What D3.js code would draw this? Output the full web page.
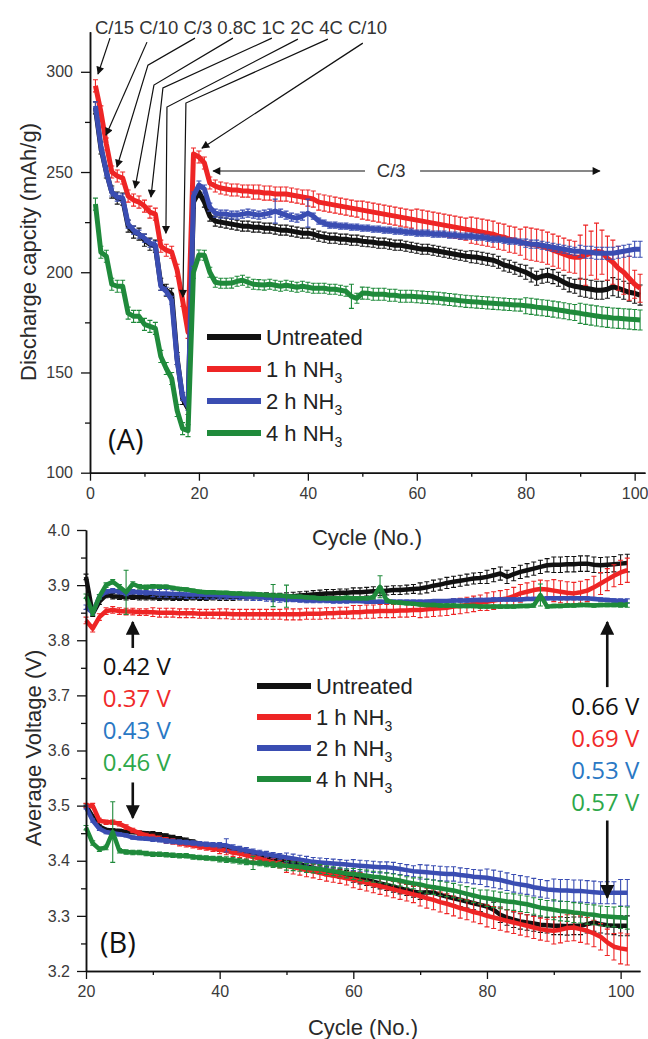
<!DOCTYPE html>
<html>
<head>
<meta charset="utf-8">
<script src="https://cdn.jsdelivr.net/npm/d3@7"></script>
<style>
	body { margin: 0; background: #fff; }
	svg { display: block; }
	svg text { font-family: "Liberation Sans", Arial, sans-serif; }
	svg text.cal { font-family: "Open Sans", sans-serif; }
</style>
</head>
<body>
<svg id="vis" width="648" height="1039"></svg>
<script>

// ---- data ----------------------------------------------------------------
var legendLabels = ["Untreated", "1 h NH3", "2 h NH3", "4 h NH3"];
var seriesColors = ["#111111", "#ee2525", "#3a4db2", "#1f8a3b"];

// panel A : discharge capacity, cycles 1..101
var capCycles = d3.range(1, 102);
var capUntreated = [
	282, 262, 250, 240, 237, 236.5, 223, 220, 219, 216,
	214, 213, 194, 191, 189, 157, 137, 132, 235, 240,
	235, 228, 225.5, 225, 224.5, 224, 223.5, 223, 223, 222.5,
	222.5, 222, 222, 221.5, 221, 221, 220.5, 220, 219.5, 219.5,
	219, 218, 217.5, 217, 217, 216.5, 216.5, 216, 216, 215.5,
	215.2, 215, 214.5, 214.5, 214, 213.5, 213.5, 213, 212.5, 212,
	211.5, 211.5, 211, 210.5, 210, 209.5, 209, 208.5, 208, 207.7,
	207.5, 207, 206.5, 206, 205, 203.6, 203, 202, 201, 200,
	198.6, 197, 198, 198.5, 197.8, 196.5, 195, 193.7, 193, 192.5,
	192, 191.5, 191, 191, 191.5, 192.8, 192, 191, 190, 189.5, 188.6];
var cap1h = [
	293, 280, 264, 250, 248, 247, 238, 236, 235, 233,
	230, 229, 213, 211, 210, 201, 186, 170, 259, 257.5,
	254.5, 244.5, 243, 242, 241.5, 241, 241, 240.5, 240.5, 240,
	240, 239.5, 239.5, 239, 239, 239, 238.5, 238, 237.5, 237,
	236.5, 235, 234.5, 234, 233.5, 233, 232.5, 232, 231.5, 231,
	230.5, 230, 229.5, 229, 228.5, 228, 227.5, 227, 226.5, 226,
	225.5, 225, 224.5, 224, 223.5, 223, 222.5, 222, 221.5, 221,
	220.5, 220, 219.5, 219, 218, 217.5, 216.5, 216, 215, 214.5,
	214, 213.5, 213, 212, 211, 210, 209, 208, 207.5, 207.5,
	208.5, 209.5, 210.5, 210, 207, 205, 202, 200, 197, 194, 192];
var cap2h = [
	283, 263, 250, 240, 237.5, 237, 224, 221, 219, 217,
	214.5, 213.5, 193, 190.5, 186, 156, 138, 133, 238, 243.5,
	241.5, 232.5, 229.5, 229, 229, 228.5, 228.5, 229, 229.5, 229,
	228.5, 229, 229.5, 230.5, 229.5, 228.5, 227.5, 227, 228, 229.5,
	228, 225.5, 224.5, 223.5, 223.5, 223, 223, 222.5, 222.5, 222,
	222, 221.5, 221.5, 221, 221, 220.5, 220.5, 220, 220, 219.5,
	219.5, 219.5, 219, 219, 219, 218.5, 218.5, 218, 218, 218,
	217.5, 217.5, 217, 216.5, 216.5, 216, 215.5, 215.5, 215, 214.5,
	214, 214, 213.5, 213, 212.5, 212, 211.5, 211, 210.5, 210.5,
	210, 210, 209.5, 209.5, 209.5, 209.5, 210, 210.5, 211, 211.5, 211.5];
var cap4h = [
	234, 210, 208, 194, 193, 193, 179.6, 178, 178, 174,
	173, 172, 158, 152, 147, 131, 122, 121, 200, 208.6,
	208.5, 200, 195, 194.5, 194.5, 194.6, 195.5, 196, 195, 194,
	193.8, 193.6, 194, 193.5, 193, 193.5, 193, 192.5, 193, 192.5,
	192, 192, 192, 191.5, 191.5, 191, 190.5, 188, 187, 189.6,
	189.5, 189, 189, 189, 188.5, 188.5, 188, 188, 188, 187.8,
	187.6, 187.4, 187.2, 187, 186.7, 186.4, 186.1, 185.8, 185.5, 185.3,
	185.1, 184.9, 184.7, 184.5, 184.3, 184.1, 183.9, 183.7, 183.6, 183.3,
	183, 182.6, 182.3, 182, 181.6, 181.2, 180.8, 180.3, 179.9, 179.5,
	179, 178.6, 178.2, 177.8, 177.5, 177.2, 177, 176.8, 176.6, 176.4, 176.2];
// error bar half-heights, one value per block of ten cycles
var capErrUntreated = [3, 3, 2.5, 2.5, 2.5, 2.5, 2.5, 3, 3.5, 4.5, 5];
var capErr1h = [3, 3, 3, 3.5, 4, 4.5, 5.5, 6.5, 8, 11, 7];
var capErr2h = [2, 2, 2, 2, 1.5, 1.5, 1.5, 1.5, 2, 3, 4];
var capErr4h = [3, 3, 2.5, 2.5, 2.5, 3, 3, 3, 4, 5, 5];
var capSpikeUntreated = [];
var capSpike1h = [[91, 15], [93, 14]];
var capSpike2h = [[34, 6], [40, 7]];
var capSpike4h = [[48, 6]];

var capTicks = [100, 150, 200, 250, 300];
var capMinor = [125, 175, 225, 275];
var capCycleTicks = [0, 20, 40, 60, 80, 100];
var capCycleMinor = [10, 30, 50, 70, 90];

// panel B : average voltage, cycles 20..101
var voltCycles = d3.range(20, 102);
var voltUpUntreated = [
	3.915, 3.848, 3.870, 3.882, 3.880, 3.879, 3.878, 3.879, 3.878, 3.878,
	3.878, 3.877, 3.878, 3.877, 3.877, 3.877, 3.878, 3.877, 3.877, 3.878,
	3.878, 3.878, 3.878, 3.879, 3.879, 3.879, 3.879, 3.880, 3.879, 3.879,
	3.879, 3.880, 3.881, 3.882, 3.883, 3.884, 3.885, 3.885, 3.886, 3.886,
	3.887, 3.887, 3.888, 3.889, 3.889, 3.890, 3.891, 3.891, 3.892, 3.893,
	3.894, 3.896, 3.899, 3.901, 3.904, 3.906, 3.908, 3.910, 3.912, 3.913,
	3.915, 3.918, 3.921, 3.915, 3.920, 3.924, 3.927, 3.930, 3.933, 3.936,
	3.937, 3.937, 3.938, 3.938, 3.939, 3.939, 3.937, 3.936, 3.937, 3.938,
	3.939, 3.940];
var voltUp1h = [
	3.836, 3.821, 3.842, 3.853, 3.855, 3.853, 3.852, 3.852, 3.851, 3.851,
	3.851, 3.850, 3.850, 3.850, 3.849, 3.849, 3.849, 3.848, 3.848, 3.848,
	3.848, 3.848, 3.847, 3.847, 3.847, 3.847, 3.847, 3.847, 3.847, 3.847,
	3.847, 3.847, 3.847, 3.848, 3.848, 3.848, 3.849, 3.849, 3.850, 3.850,
	3.851, 3.851, 3.852, 3.852, 3.853, 3.853, 3.853, 3.854, 3.854, 3.855,
	3.855, 3.856, 3.857, 3.858, 3.859, 3.861, 3.862, 3.864, 3.866, 3.868,
	3.870, 3.872, 3.874, 3.876, 3.880, 3.885, 3.888, 3.891, 3.893, 3.892,
	3.890, 3.888, 3.886, 3.885, 3.887, 3.890, 3.896, 3.903, 3.910, 3.917,
	3.923, 3.927];
var voltUp2h = [
	3.860, 3.850, 3.879, 3.888, 3.890, 3.888, 3.885, 3.888, 3.887, 3.886,
	3.886, 3.885, 3.885, 3.884, 3.884, 3.883, 3.883, 3.883, 3.882, 3.882,
	3.881, 3.881, 3.880, 3.880, 3.879, 3.878, 3.878, 3.877, 3.876, 3.875,
	3.874, 3.874, 3.873, 3.872, 3.872, 3.872, 3.872, 3.871, 3.871, 3.871,
	3.871, 3.871, 3.870, 3.870, 3.870, 3.870, 3.870, 3.870, 3.870, 3.870,
	3.870, 3.870, 3.871, 3.871, 3.871, 3.872, 3.872, 3.872, 3.873, 3.873,
	3.873, 3.874, 3.874, 3.874, 3.874, 3.874, 3.875, 3.875, 3.875, 3.876,
	3.876, 3.876, 3.876, 3.876, 3.876, 3.876, 3.875, 3.874, 3.873, 3.872,
	3.871, 3.871];
var voltUp4h = [
	3.880, 3.849, 3.879, 3.900, 3.906, 3.897, 3.887, 3.902, 3.897, 3.896,
	3.898, 3.897, 3.897, 3.895, 3.893, 3.892, 3.890, 3.888, 3.887, 3.887,
	3.886, 3.886, 3.885, 3.885, 3.884, 3.884, 3.883, 3.882, 3.881, 3.881,
	3.880, 3.879, 3.879, 3.878, 3.877, 3.876, 3.876, 3.876, 3.876, 3.877,
	3.876, 3.876, 3.876, 3.878, 3.897, 3.872, 3.869, 3.868, 3.867, 3.866,
	3.865, 3.864, 3.864, 3.863, 3.863, 3.863, 3.862, 3.862, 3.862, 3.861,
	3.861, 3.861, 3.861, 3.861, 3.861, 3.862, 3.862, 3.863, 3.882, 3.861,
	3.862, 3.862, 3.863, 3.863, 3.864, 3.864, 3.863, 3.864, 3.864, 3.864,
	3.864, 3.864];
var voltLowUntreated = [
	3.500, 3.480, 3.462, 3.456, 3.455, 3.454, 3.453, 3.452, 3.451, 3.450,
	3.449, 3.447, 3.445, 3.442, 3.440, 3.437, 3.434, 3.431, 3.428, 3.425,
	3.423, 3.421, 3.419, 3.417, 3.414, 3.411, 3.409, 3.406, 3.404, 3.402,
	3.399, 3.397, 3.394, 3.390, 3.387, 3.384, 3.381, 3.379, 3.376, 3.374,
	3.371, 3.368, 3.365, 3.362, 3.359, 3.356, 3.353, 3.350, 3.347, 3.344,
	3.342, 3.343, 3.342, 3.338, 3.335, 3.332, 3.329, 3.326, 3.323, 3.320,
	3.317, 3.311, 3.302, 3.297, 3.293, 3.290, 3.288, 3.286, 3.284, 3.283,
	3.282, 3.282, 3.281, 3.282, 3.282, 3.285, 3.288, 3.285, 3.283, 3.282,
	3.282, 3.282];
var voltLow1h = [
	3.500, 3.500, 3.473, 3.470, 3.470, 3.467, 3.461, 3.455, 3.450, 3.446,
	3.443, 3.440, 3.437, 3.435, 3.432, 3.430, 3.428, 3.426, 3.424, 3.422,
	3.420, 3.418, 3.415, 3.413, 3.410, 3.407, 3.404, 3.400, 3.397, 3.394,
	3.391, 3.388, 3.386, 3.383, 3.381, 3.378, 3.375, 3.373, 3.371, 3.368,
	3.366, 3.363, 3.360, 3.357, 3.354, 3.351, 3.348, 3.345, 3.342, 3.339,
	3.336, 3.332, 3.329, 3.325, 3.322, 3.318, 3.314, 3.311, 3.307, 3.304,
	3.300, 3.297, 3.294, 3.291, 3.288, 3.285, 3.282, 3.279, 3.276, 3.274,
	3.273, 3.275, 3.278, 3.279, 3.276, 3.273, 3.268, 3.262, 3.252, 3.244,
	3.241, 3.239];
var voltLow2h = [
	3.497, 3.473, 3.458, 3.452, 3.450, 3.448, 3.446, 3.442, 3.441, 3.440,
	3.439, 3.438, 3.436, 3.435, 3.434, 3.433, 3.432, 3.431, 3.430, 3.429,
	3.428, 3.428, 3.424, 3.421, 3.419, 3.416, 3.414, 3.412, 3.410, 3.408,
	3.406, 3.404, 3.402, 3.400, 3.398, 3.397, 3.396, 3.395, 3.394, 3.393,
	3.392, 3.391, 3.390, 3.389, 3.388, 3.388, 3.387, 3.385, 3.383, 3.381,
	3.380, 3.379, 3.378, 3.377, 3.376, 3.376, 3.374, 3.373, 3.371, 3.370,
	3.369, 3.367, 3.365, 3.362, 3.359, 3.357, 3.355, 3.352, 3.350, 3.348,
	3.347, 3.346, 3.346, 3.345, 3.345, 3.344, 3.343, 3.342, 3.342, 3.342,
	3.342, 3.342];
var voltLow4h = [
	3.460, 3.432, 3.421, 3.424, 3.452, 3.418, 3.416, 3.415, 3.415, 3.413,
	3.412, 3.412, 3.411, 3.410, 3.409, 3.409, 3.407, 3.406, 3.405, 3.404,
	3.403, 3.402, 3.401, 3.399, 3.398, 3.396, 3.396, 3.394, 3.393, 3.392,
	3.391, 3.390, 3.389, 3.387, 3.386, 3.385, 3.383, 3.381, 3.379, 3.377,
	3.376, 3.374, 3.373, 3.371, 3.370, 3.368, 3.366, 3.364, 3.361, 3.359,
	3.357, 3.354, 3.352, 3.350, 3.348, 3.346, 3.343, 3.340, 3.337, 3.334,
	3.332, 3.330, 3.328, 3.326, 3.325, 3.323, 3.321, 3.318, 3.315, 3.313,
	3.311, 3.309, 3.308, 3.306, 3.305, 3.303, 3.302, 3.300, 3.299, 3.298,
	3.297, 3.296];
var voltErrUpUntreated = [0.005, 0.005, 0.006, 0.007, 0.008, 0.010, 0.012, 0.014, 0.016];
var voltErrUp1h = [0.006, 0.008, 0.009, 0.010, 0.012, 0.014, 0.016, 0.020, 0.022];
var voltErrUp2h = [0.004, 0.007, 0.006, 0.004, 0.003, 0.003, 0.003, 0.003, 0.004];
var voltErrUp4h = [0.004, 0.003, 0.003, 0.003, 0.003, 0.003, 0.003, 0.003, 0.004];
var voltErrLowUntreated = [0.003, 0.004, 0.006, 0.008, 0.010, 0.012, 0.014, 0.016, 0.018];
var voltErrLow1h = [0.004, 0.005, 0.007, 0.012, 0.015, 0.018, 0.020, 0.024, 0.028];
var voltErrLow2h = [0.003, 0.004, 0.005, 0.008, 0.010, 0.013, 0.016, 0.020, 0.024];
var voltErrLow4h = [0.004, 0.004, 0.005, 0.008, 0.010, 0.013, 0.015, 0.018, 0.020];
var voltSpikeUp4h = [[26, 0.04], [48, 0.02], [50, 0.02], [64, 0.02], [88, 0.02]];
var voltSpikeLow2h = [[41, 0.012]];
var voltSpikeLow4h = [[24, 0.055], [45, 0.012]];

var voltTicks = [3.2, 3.3, 3.4, 3.5, 3.6, 3.7, 3.8, 3.9, 4.0];
var voltMinor = [3.25, 3.35, 3.45, 3.55, 3.65, 3.75, 3.85, 3.95];
var voltCycleTicks = [20, 40, 60, 80, 100];
var voltCycleMinor = [30, 50, 70, 90];

// annotations
var rateText = "C/15 C/10 C/3 0.8C 1C 2C 4C C/10";
// arrow paths in (cycle, capacity) units: label end -> (elbow) -> tip
var rateArrows = [
	[[3.67, 316.8], [1.47, 298.9]],
	[[10.46, 314.8], [2.94, 268.4]],
	[[19.27, 316.8], [10.64, 303.3], [4.95, 252.5]],
	[[26.24, 316.8], [11.74, 293.4], [8.26, 242]],
	[[33.39, 316.8], [13.39, 291.9], [11.19, 237.5]],
	[[38.17, 316.3], [14.13, 282.4], [13.94, 219.5]],
	[[43.67, 316.3], [17.61, 284.4], [17.06, 187.6]],
	[[50.09, 314.3], [20.55, 261.9]]
];
var c3Arrows = [[[50.5, 250.5], [22.6, 250.5]], [[60.6, 250.5], [93.6, 250.5]]];
var voltLeftText = ["0.42 V", "0.37 V", "0.43 V", "0.46 V"];
var voltRightText = ["0.66 V", "0.69 V", "0.53 V", "0.57 V"];
var voltTextColors = ["#111111", "#f02a2a", "#2a78c4", "#2ea84a"];
var voltArrows = [[27, 3.786, 3.833], [27, 3.542, 3.478], [98, 3.715, 3.833], [98, 3.473, 3.333]];

// ---- drawing --------------------------------------------------------------
var svg = d3.select("#vis");
var defs = svg.append("defs");

defs.append("marker").attr("id", "headSmall")
	.attr("viewBox", "0 0 10 10").attr("refX", 9).attr("refY", 5)
	.attr("markerUnits", "userSpaceOnUse").attr("markerWidth", 9).attr("markerHeight", 8)
	.attr("orient", "auto")
	.append("path").attr("d", "M0,0L10,5L0,10z").attr("fill", "#111");

defs.append("marker").attr("id", "headBig")
	.attr("viewBox", "0 0 10 10").attr("refX", 9).attr("refY", 5)
	.attr("markerUnits", "userSpaceOnUse").attr("markerWidth", 15).attr("markerHeight", 14)
	.attr("orient", "auto")
	.append("path").attr("d", "M0,0L10,5L0,10z").attr("fill", "#111");

function errAt (blocks, spikes, c, c0) {
	var e = blocks[Math.floor((c - c0) / 10)];
	spikes.forEach(function (s) {
		if (s[0] == c) {e = s[1]}
	});
	return e;
}

function drawSeries (g, x, y, cycles, values, blocks, spikes, c0, color, width) {
	var pts = cycles.map(function (c, i) {
		return {c: c, v: values[i], e: errAt(blocks, spikes, c, c0)};
	});

	g.append("g")
		.attr("stroke", color)
		.attr("stroke-width", 1.1)
		.attr("fill", "none")
		.selectAll("path")
		.data(pts)
		.enter()
		.append("path")
		.attr("d", function (d) {
			var xx = x(d.c);
			var y0 = y(d.v - d.e);
			var y1 = y(d.v + d.e);
			return "M" + xx + "," + y0 + "V" + y1 +
				"M" + (xx - 2.5) + "," + y0 + "h5" +
				"M" + (xx - 2.5) + "," + y1 + "h5";
		});

	g.append("path")
		.datum(pts)
		.attr("fill", "none")
		.attr("stroke", color)
		.attr("stroke-width", width)
		.attr("stroke-linejoin", "round")
		.attr("d", d3.line()
			.x(function (d) { return x(d.c) })
			.y(function (d) { return y(d.v) }));
}

function styleAxis (sel) {
	sel.attr("font-family", null).attr("font-size", null);
	sel.selectAll("path.domain").attr("stroke", "#111").attr("stroke-width", 1.5);
	sel.selectAll(".tick line").attr("stroke", "#111").attr("stroke-width", 1.3);
	sel.selectAll(".tick text").attr("fill", "#3a3a3a").style("font-size", "16px");
}

function drawAxes (g, x, y, p) {
	var bottom = y.range()[0];
	var left = x.range()[0];

	g.append("g").attr("transform", "translate(0," + bottom + ")")
		.call(d3.axisBottom(x).tickValues(p.xMinor).tickSize(4).tickSizeOuter(0).tickFormat(""))
		.call(styleAxis);
	g.append("g").attr("transform", "translate(" + left + ",0)")
		.call(d3.axisLeft(y).tickValues(p.yMinor).tickSize(5).tickSizeOuter(0).tickFormat(""))
		.call(styleAxis);

	g.append("g").attr("transform", "translate(0," + bottom + ")")
		.call(d3.axisBottom(x).tickValues(p.xTicks).tickSize(8).tickSizeOuter(0).tickPadding(7))
		.call(styleAxis);
	g.append("g").attr("transform", "translate(" + left + ",0)")
		.call(d3.axisLeft(y).tickValues(p.yTicks).tickSize(9).tickSizeOuter(0).tickPadding(p.yPad).tickFormat(p.yFormat))
		.call(styleAxis);

	g.append("text")
		.attr("x", p.xTitlePos[0]).attr("y", p.xTitlePos[1])
		.attr("text-anchor", "middle").attr("dominant-baseline", "central")
		.attr("font-size", 22).attr("fill", "#2a2a2a")
		.text("Cycle (No.)");

	g.append("text")
		.attr("transform", "translate(" + p.yTitlePos[0] + "," + p.yTitlePos[1] + ") rotate(-90)")
		.attr("text-anchor", "middle").attr("dominant-baseline", "central")
		.attr("font-size", 22).attr("fill", "#2a2a2a")
		.text(p.yTitle);
}

function writeLabel (sel, label) {
	var m = label.match(/^(.*NH)3$/);
	if (m) {
		sel.append("tspan").text(m[1]);
		sel.append("tspan").attr("font-size", 14).attr("dy", 6).text("3");
	} else {
		sel.text(label);
	}
}

function drawLegend (g, x0, y0, step) {
	legendLabels.forEach(function (l, i) {
		var yy = y0 + i * step;
		g.append("line")
			.attr("x1", x0).attr("x2", x0 + 54)
			.attr("y1", yy).attr("y2", yy)
			.attr("stroke", seriesColors[i]).attr("stroke-width", 6);
		var t = g.append("text")
			.attr("x", x0 + 59).attr("y", yy + 8)
			.attr("font-size", 22).attr("fill", "#222");
		writeLabel(t, l);
	});
}

// ---------- panel A ----------
(function () {
	var x = d3.scaleLinear().domain([0, 101.9]).range([90, 645]);
	var y = d3.scaleLinear().domain([100, 320]).range([472.7, 31.7]);
	var g = svg.append("g");

	var data = [
		[capUntreated, capErrUntreated, capSpikeUntreated],
		[cap1h, capErr1h, capSpike1h],
		[cap2h, capErr2h, capSpike2h],
		[cap4h, capErr4h, capSpike4h]
	];
	data.forEach(function (d, i) {
		drawSeries(g, x, y, capCycles, d[0], d[1], d[2], 0, seriesColors[i], 5);
	});

	drawAxes(g, x, y, {
		xTicks: capCycleTicks, xMinor: capCycleMinor,
		yTicks: capTicks, yMinor: capMinor, yPad: 8, yFormat: d3.format("d"),
		xTitlePos: [367, 537], yTitlePos: [28, 252],
		yTitle: "Discharge capcity (mAh/g)"
	});

	// rate labels and arrows
	g.append("text")
		.attr("x", 95).attr("y", 27)
		.attr("dominant-baseline", "central")
		.attr("font-size", 18.5).attr("fill", "#333")
		.text(rateText);

	var line = d3.line()
		.x(function (d) { return x(d[0]) })
		.y(function (d) { return y(d[1]) });

	g.selectAll(".rate-arrow")
		.data(rateArrows.concat(c3Arrows))
		.enter()
		.append("path")
		.attr("class", "rate-arrow")
		.attr("d", line)
		.attr("fill", "none")
		.attr("stroke", "#111")
		.attr("stroke-width", 1.2)
		.attr("marker-end", "url(#headSmall)");

	g.append("text")
		.attr("x", x(55.3)).attr("y", y(250.6))
		.attr("text-anchor", "middle").attr("dominant-baseline", "central")
		.attr("font-size", 18.5).attr("fill", "#333")
		.text("C/3");

	g.append("text")
		.attr("class", "cal")
		.attr("x", 108).attr("y", 438)
		.attr("dominant-baseline", "central")
		.attr("font-size", 29).attr("fill", "#111")
		.text("(A)");

	drawLegend(g, 207, 337, 32);
})();

// ---------- panel B ----------
(function () {
	var x = d3.scaleLinear().domain([20, 102.9]).range([86, 640]);
	var y = d3.scaleLinear().domain([3.2, 4.0]).range([971, 530]);
	var g = svg.append("g");

	var lower = [
		[voltLowUntreated, voltErrLowUntreated, []],
		[voltLow1h, voltErrLow1h, []],
		[voltLow2h, voltErrLow2h, voltSpikeLow2h],
		[voltLow4h, voltErrLow4h, voltSpikeLow4h]
	];
	var upper = [
		[voltUpUntreated, voltErrUpUntreated, []],
		[voltUp1h, voltErrUp1h, []],
		[voltUp2h, voltErrUp2h, []],
		[voltUp4h, voltErrUp4h, voltSpikeUp4h]
	];
	lower.forEach(function (d, i) {
		drawSeries(g, x, y, voltCycles, d[0], d[1], d[2], 20, seriesColors[i], 4.5);
	});
	upper.forEach(function (d, i) {
		drawSeries(g, x, y, voltCycles, d[0], d[1], d[2], 20, seriesColors[i], 4.5);
	});

	drawAxes(g, x, y, {
		xTicks: voltCycleTicks, xMinor: voltCycleMinor,
		yTicks: voltTicks, yMinor: voltMinor, yPad: 7, yFormat: d3.format(".1f"),
		xTitlePos: [363, 1027], yTitlePos: [33, 748],
		yTitle: "Average Voltage (V)"
	});

	// voltage gap arrows
	g.selectAll(".volt-arrow")
		.data(voltArrows)
		.enter()
		.append("line")
		.attr("class", "volt-arrow")
		.attr("x1", function (d) { return x(d[0]) })
		.attr("x2", function (d) { return x(d[0]) })
		.attr("y1", function (d) { return y(d[1]) })
		.attr("y2", function (d) { return y(d[2]) })
		.attr("stroke", "#111")
		.attr("stroke-width", 2.6)
		.attr("marker-end", "url(#headBig)");

	function gapText (texts, cx, v0) {
		texts.forEach(function (t, i) {
			g.append("text")
				.attr("class", "cal")
				.attr("x", x(cx)).attr("y", y(v0) + i * 32)
				.attr("text-anchor", "middle").attr("dominant-baseline", "central")
				.attr("font-size", 24)
				.attr("fill", voltTextColors[i])
				.text(t);
		});
	}
	gapText(voltLeftText, 27.6, 3.755);
	gapText(voltRightText, 97.7, 3.682);

	g.append("text")
		.attr("class", "cal")
		.attr("x", 100).attr("y", 941)
		.attr("dominant-baseline", "central")
		.attr("font-size", 29).attr("fill", "#111")
		.text("(B)");

	drawLegend(g, 257, 686, 31);
})();

</script>
</body>
</html>
